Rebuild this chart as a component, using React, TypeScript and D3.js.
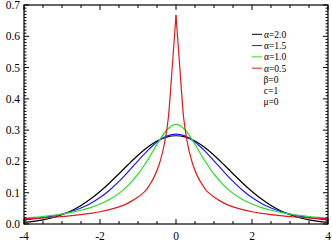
import React from 'react';
import * as d3 from 'd3';

// x positions shared by the three smooth curves
const xGrid = [-4, -3.75, -3.5, -3.25, -3, -2.75, -2.5, -2.25, -2, -1.75, -1.5, -1.25, -1, -0.75, -0.5, -0.25, 0,
  0.25, 0.5, 0.75, 1, 1.25, 1.5, 1.75, 2, 2.25, 2.5, 2.75, 3, 3.25, 3.5, 3.75, 4];

// alpha = 2.0 (black)
const alpha20 = [0.0052, 0.0084, 0.0132, 0.0201, 0.0297, 0.0426, 0.0591, 0.0796, 0.1038, 0.1312, 0.1607, 0.1909, 0.2197, 0.2451, 0.2650, 0.2777, 0.2821,
  0.2777, 0.2650, 0.2451, 0.2197, 0.1909, 0.1607, 0.1312, 0.1038, 0.0796, 0.0591, 0.0426, 0.0297, 0.0201, 0.0132, 0.0084, 0.0052];

// alpha = 1.5 (blue)
const alpha15 = [0.0137, 0.0165, 0.0200, 0.0251, 0.0317, 0.0405, 0.0512, 0.0658, 0.0845, 0.1080, 0.1361, 0.1681, 0.2020, 0.2347, 0.2623, 0.2808, 0.2874,
  0.2808, 0.2623, 0.2347, 0.2020, 0.1681, 0.1361, 0.1080, 0.0845, 0.0658, 0.0512, 0.0405, 0.0317, 0.0251, 0.0200, 0.0165, 0.0137];

// alpha = 1.0 (green)
const alpha10 = [0.0187, 0.0211, 0.0240, 0.0275, 0.0318, 0.0372, 0.0439, 0.0525, 0.0637, 0.0784, 0.0979, 0.1242, 0.1592, 0.2037, 0.2546, 0.2996, 0.3183,
  0.2996, 0.2546, 0.2037, 0.1592, 0.1242, 0.0979, 0.0784, 0.0637, 0.0525, 0.0439, 0.0372, 0.0318, 0.0275, 0.0240, 0.0211, 0.0187];

// alpha = 0.5 (red) on its own, finer grid
const redX = [-4, -3.75, -3.5, -3.25, -3, -2.75, -2.5, -2.25, -2, -1.75, -1.5, -1.25, -1, -0.9, -0.8, -0.7, -0.6, -0.5, -0.4, -0.3, -0.2, -0.1, 0,
  0.1, 0.2, 0.3, 0.4, 0.5, 0.6, 0.7, 0.8, 0.9, 1, 1.25, 1.5, 1.75, 2, 2.25, 2.5, 2.75, 3, 3.25, 3.5, 3.75, 4];
const alpha05 = [0.0165, 0.0179, 0.0196, 0.0215, 0.0238, 0.0265, 0.0299, 0.0340, 0.0391, 0.0459, 0.0549, 0.0675, 0.0861, 0.0956, 0.1066, 0.1243, 0.1443, 0.1708, 0.2072, 0.2597, 0.3411, 0.50, 0.668,
  0.50, 0.3411, 0.2597, 0.2072, 0.1708, 0.1443, 0.1243, 0.1066, 0.0956, 0.0861, 0.0675, 0.0549, 0.0459, 0.0391, 0.0340, 0.0299, 0.0265, 0.0238, 0.0215, 0.0196, 0.0179, 0.0165];

const xTickLabels = ['-4', '-2', '0', '2', '4'];
const xTickValues = [-4, -2, 0, 2, 4];
const yTickLabels = ['0.0', '0.1', '0.2', '0.3', '0.4', '0.5', '0.6', '0.7'];
const yTickValues = [0, 0.1, 0.2, 0.3, 0.4, 0.5, 0.6, 0.7];
const legendLabels = ['α=2.0', 'α=1.5', 'α=1.0', 'α=0.5'];
const paramLabels = ['β=0', 'c=1', 'μ=0'];

const colors = ['#000000', '#1c1cf0', '#22e022', '#e01a1a'];

const W = 332;
const H = 250;
const FONT = '"Liberation Serif", "Times New Roman", serif';

export default function App() {
  const x = d3.scaleLinear().domain([-4, 4]).range([24, 328]);
  const y = d3.scaleLinear().domain([0, 0.7]).range([224, 5]);

  const smooth = d3.line<[number, number]>()
    .x((d) => x(d[0]))
    .y((d) => y(d[1]))
    .curve(d3.curveMonotoneX);

  const series = [alpha20, alpha15, alpha10].map((vals) => xGrid.map((xv, i) => [xv, vals[i]] as [number, number]));
  const redPts = redX.map((xv, i) => [xv, alpha05[i]] as [number, number]);
  const peak = redX.indexOf(0);
  const redLeft = redPts.slice(0, peak + 1);
  const redRight = redPts.slice(peak);

  const minorX = d3.range(-4, 4.001, 0.5);
  const minorY = d3.range(0, 0.7001, 0.01);

  const [x0, x1] = x.range();
  const [yb, yt] = y.range();

  return (
    <svg width={W} height={H} style={{ position: 'absolute', left: 0, top: 0, background: '#fff' }}>
      <g fill="none" strokeWidth={1.2} strokeLinejoin="round">
        {series.map((pts, i) => (
          <path key={i} d={smooth(pts) || ''} stroke={colors[i]} />
        ))}
        <path d={smooth(redLeft) || ''} stroke={colors[3]} />
        <path d={smooth(redRight) || ''} stroke={colors[3]} />
      </g>

      {/* frame */}
      <rect x={x0} y={yt} width={x1 - x0} height={yb - yt} fill="none" stroke="#000" strokeWidth={1.2} />

      {/* x ticks */}
      <g stroke="#000" strokeWidth={1}>
        {minorX.map((v) => {
          const major = Math.abs(v / 2 - Math.round(v / 2)) < 1e-6;
          const len = major ? 5 : 3;
          return (
            <g key={v}>
              <line x1={x(v)} x2={x(v)} y1={yb} y2={yb - len} />
              <line x1={x(v)} x2={x(v)} y1={yt} y2={yt + len} />
            </g>
          );
        })}
        {minorY.map((v, i) => {
          const major = i % 10 === 0;
          const len = major ? 5 : 2.5;
          return (
            <g key={i}>
              <line x1={x0} x2={x0 + len} y1={y(v)} y2={y(v)} />
              <line x1={x1} x2={x1 - len} y1={y(v)} y2={y(v)} />
            </g>
          );
        })}
      </g>

      {/* tick labels */}
      <g fontFamily={FONT} fontSize={11.5} fill="#000">
        {xTickValues.map((v, i) => (
          <text key={i} x={x(v)} y={240} textAnchor="middle">{xTickLabels[i]}</text>
        ))}
        {yTickValues.map((v, i) => (
          <text key={i} x={20} y={y(v) + 4} textAnchor="end">{yTickLabels[i]}</text>
        ))}
      </g>

      {/* legend */}
      <g fontFamily={FONT} fontSize={9.5} fill="#000">
        {legendLabels.map((lab, i) => {
          const ly = 34.3 + i * 11.3;
          return (
            <g key={i}>
              <line x1={252} x2={262} y1={ly} y2={ly} stroke={colors[i]} strokeWidth={1} />
              <text x={264} y={ly + 3.3}>{lab}</text>
            </g>
          );
        })}
        {paramLabels.map((lab, i) => (
          <text key={i} x={271} y={82.6 + i * 11.3} textAnchor="middle">{lab}</text>
        ))}
      </g>
    </svg>
  );
}
